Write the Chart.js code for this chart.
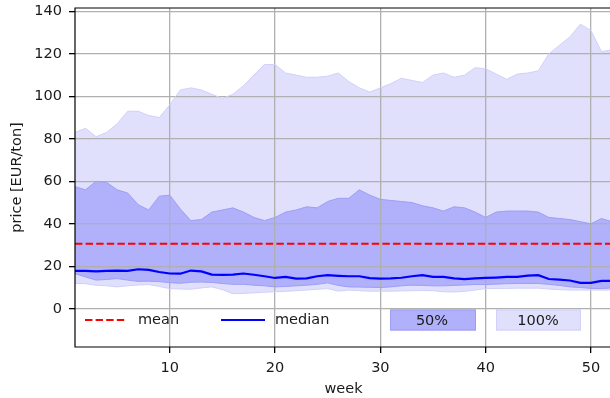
<!DOCTYPE html>
<html>
<head>
<meta charset="utf-8">
<script src="https://cdn.jsdelivr.net/npm/chart.js@4/dist/chart.umd.min.js"></script>
<style>
  html, body { margin: 0; padding: 0; overflow: hidden; background: #fff; }
  #wrap { width: 612px; height: 398px; }
</style>
</head>
<body>
<div id="wrap"><canvas id="c" width="612" height="398"></canvas></div>
<script>
// Weekly price distribution, EUR per ton
const weeks = [1,2,3,4,5,6,7,8,9,10,11,12,13,14,15,16,17,18,19,20,21,22,23,24,25,26,
               27,28,29,30,31,32,33,34,35,36,37,38,39,40,41,42,43,44,45,46,47,48,49,50,51,52];

// full range (min .. max)
const maxPrice = [83,85,81,83,87,93,93,91,90,96,103,104,103,101,99,101,105,110,115,115,111,110,109,109,109.5,111,
                  107,104,102,104,106,108.5,107.5,106.5,110,111,109,110,113.5,113,110.5,108,110.5,111,112,120,124,128,134,131,121,122];
const minPrice = [12,11.8,11.1,10.8,10.3,10.8,11.2,11.4,10.5,9.5,9.3,9.2,9.8,10.3,9,7.1,7.2,7.5,7.8,8,8.2,8.5,8.8,9.2,9.5,8.3,
                  8.8,8.5,8.3,8.3,8.3,8.4,8.5,8.6,8.5,8,7.9,8.2,8.8,9.5,9.6,9.6,9.7,9.7,9.7,9.3,9,8.8,8.8,8.8,8.8,8.8];

// central half (quartiles)
const upperQuartile = [57.5,56,60,59.5,56,54.5,49,46.5,53,53.5,47,41.5,42,45.5,46.5,47.5,45.5,43,41.5,43,45.5,46.5,48,47.5,50.5,52,
                       52,56,53.5,51.5,51,50.5,50,48.5,47.5,46,48,47.5,45.5,43,45.5,46,46,46,45.5,43,42.5,42,41,40,42.5,41];
const lowerQuartile = [16.5,15,13.5,13.8,14.2,13.5,12.9,13,12.8,12.3,12,12.5,12.6,12.4,11.9,11.5,11.5,11.1,10.8,10.3,10.5,10.8,11.1,11.5,12.2,11,
                       10.3,10.2,10.1,10,10.3,10.8,11.1,11,10.8,10.8,11,11.2,11.4,11.4,11.6,11.8,11.9,11.9,11.9,11.5,11,10.3,10,9.6,9.5,9.8];

const medianPrice = [17.8,17.8,17.6,17.8,18,17.8,18.6,18.3,17.3,16.6,16.5,18,17.6,16.1,16,16.1,16.6,16,15.3,14.5,15,14.2,14.3,15.3,15.8,15.5,
                     15.3,15.3,14.4,14.2,14.3,14.6,15.3,15.8,15,15,14.3,14,14.3,14.5,14.7,15,15,15.6,15.8,14,13.7,13.3,12.2,12.2,13.1,13.1];
const meanPrice = 30.6;

const yTicks = [0, 20, 40, 60, 80, 100, 120, 140];
const xTicks = [10, 20, 30, 40, 50];

const FONT = 'DejaVu Sans';
const LIGHT = 'rgb(224,224,253)';
const LIGHT_EDGE = 'rgb(208,208,250)';
const DARK = 'rgb(176,176,251)';
const DARK_EDGE = 'rgb(158,158,246)';

const pts = arr => weeks.map((w, i) => ({ x: w, y: arr[i] }));

// frame on the left, top and bottom of the plotting area
const framePlugin = {
  id: 'frame',
  afterDatasetsDraw(chart) {
    const { ctx, chartArea: a } = chart;
    ctx.save();
    ctx.strokeStyle = '#000';
    ctx.lineWidth = 1.2;
    ctx.beginPath();
    ctx.moveTo(a.right + 2, a.top);
    ctx.lineTo(a.left, a.top);
    ctx.lineTo(a.left, a.bottom);
    ctx.lineTo(a.right + 2, a.bottom);
    ctx.stroke();
    ctx.restore();
  }
};

// legend row inside the plot, along its lower edge
const legendPlugin = {
  id: 'bandLegend',
  afterDatasetsDraw(chart) {
    const { ctx, chartArea: a } = chart;
    const y = a.bottom - 27;
    ctx.save();
    ctx.font = '14.5px "' + FONT + '"';
    ctx.textBaseline = 'middle';
    ctx.fillStyle = '#1a1a1a';

    // mean
    ctx.strokeStyle = 'rgb(255,0,0)';
    ctx.lineWidth = 2;
    ctx.setLineDash([7.4, 3.2]);
    ctx.beginPath(); ctx.moveTo(a.left + 10, y); ctx.lineTo(a.left + 52, y); ctx.stroke();
    ctx.setLineDash([]);
    ctx.textAlign = 'left';
    ctx.fillText('mean', a.left + 63, y);

    // median
    ctx.strokeStyle = 'rgb(0,0,255)';
    ctx.beginPath(); ctx.moveTo(a.left + 146, y); ctx.lineTo(a.left + 190, y); ctx.stroke();
    ctx.fillText('median', a.left + 200, y);

    // 50% patch
    ctx.fillStyle = DARK;
    ctx.fillRect(a.left + 315, y - 10.5, 86, 21);
    ctx.strokeStyle = DARK_EDGE; ctx.lineWidth = 1;
    ctx.strokeRect(a.left + 315.5, y - 10, 85, 20);
    // 100% patch
    ctx.fillStyle = LIGHT;
    ctx.fillRect(a.left + 421, y - 10.5, 85, 21);
    ctx.strokeStyle = LIGHT_EDGE;
    ctx.strokeRect(a.left + 421.5, y - 10, 84, 20);

    ctx.fillStyle = '#1a1a1a';
    ctx.textAlign = 'center';
    ctx.fillText('50%', a.left + 357, y + 1);
    ctx.fillText('100%', a.left + 463, y + 1);
    ctx.restore();
  }
};

new Chart(document.getElementById('c'), {
  type: 'line',
  data: {
    datasets: [
      { label: 'max', data: pts(maxPrice), fill: { target: 1 }, backgroundColor: LIGHT,
        borderColor: LIGHT_EDGE, borderWidth: 1, pointRadius: 0, tension: 0, order: 10 },
      { label: 'min', data: pts(minPrice), fill: false, borderColor: LIGHT_EDGE, borderWidth: 1,
        pointRadius: 0, tension: 0, order: 10 },
      { label: 'q3', data: pts(upperQuartile), fill: { target: 3 }, backgroundColor: DARK,
        borderColor: DARK_EDGE, borderWidth: 1, pointRadius: 0, tension: 0, order: 5 },
      { label: 'q1', data: pts(lowerQuartile), fill: false, borderColor: DARK_EDGE, borderWidth: 1,
        pointRadius: 0, tension: 0, order: 5 },
      { label: 'mean', data: weeks.map(w => ({ x: w, y: meanPrice })), fill: false,
        borderColor: 'rgb(255,0,0)', borderWidth: 2, borderDash: [7.4, 3.2], pointRadius: 0, order: 1 },
      { label: 'median', data: pts(medianPrice), fill: false, borderColor: 'rgb(0,0,255)',
        borderWidth: 2.2, pointRadius: 0, tension: 0, order: 0 }
    ]
  },
  options: {
    responsive: false,
    animation: false,
    events: [],
    layout: { padding: { top: 8, right: 0, bottom: 0, left: 0 } },
    plugins: {
      legend: { display: false },
      tooltip: { enabled: false },
      filler: { drawTime: 'beforeDraw' }
    },
    scales: {
      x: {
        type: 'linear',
        min: 1, max: 52,
        afterBuildTicks(s) { s.ticks = xTicks.map(v => ({ value: v })); },
        afterFit(s) { s.height = 51; s.paddingLeft = 0; s.paddingRight = 0; },
        grid: { color: '#b0b0b0', lineWidth: 1.3, tickColor: '#000', tickLength: 6, drawTicks: true },
        border: { display: false },
        ticks: { font: { family: FONT, size: 14.5 }, color: '#1a1a1a', padding: 7, maxRotation: 0 },
        title: { display: true, text: 'week', font: { family: FONT, size: 14.5 }, color: '#1a1a1a',
                 padding: { top: 0, bottom: 0.5 } }
      },
      y: {
        type: 'linear',
        min: -18, max: 141.6,
        afterBuildTicks(s) { s.ticks = yTicks.map(v => ({ value: v })); },
        afterFit(s) { s.width = 75; s.paddingTop = 0; s.paddingBottom = 0; },
        grid: { color: '#b0b0b0', lineWidth: 1.3, tickColor: '#000', tickLength: 6, drawTicks: true },
        border: { display: false },
        ticks: { font: { family: FONT, size: 14.5 }, color: '#1a1a1a', padding: 7 },
        title: { display: true, text: 'price [EUR/ton]', font: { family: FONT, size: 14.5 }, color: '#1a1a1a',
                 padding: { top: 8.3, bottom: 0 } }
      }
    }
  },
  plugins: [framePlugin, legendPlugin]
});
</script>
</body>
</html>
